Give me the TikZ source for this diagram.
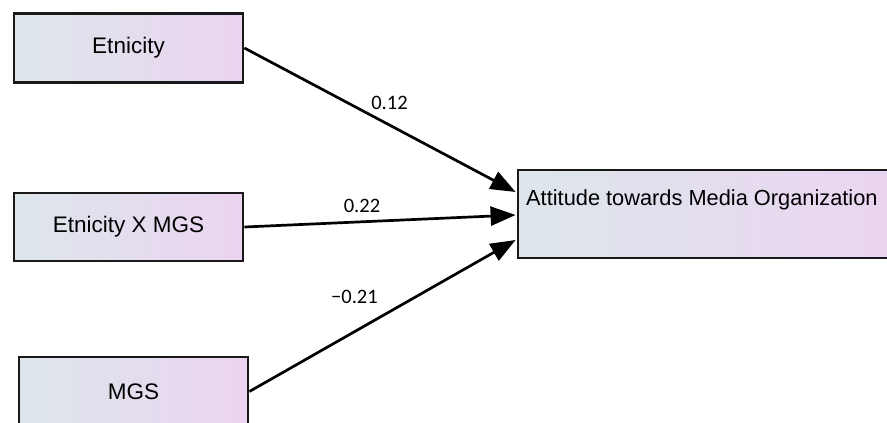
\documentclass[tikz,border=0pt]{standalone}
\usepackage{fontspec}
\setmainfont{Liberation Sans}
\newfontfamily\labfont{Carlito}
\usetikzlibrary{arrows.meta,calc}
\definecolor{gleft}{HTML}{DDE6EB}
\definecolor{gright}{HTML}{EBD4F1}
\tikzset{
  var/.style={draw=black!90, line width=2.8pt, left color=gleft, right color=gright,
    shading angle=90, inner sep=0pt, font=\fontsize{22.5}{26}\selectfont, text=black},
  path/.style={line width=2.7pt, draw=black, -{Triangle[length=25pt,width=19pt]}, shorten >=0pt},
  coef/.style={font=\labfont\fontsize{20.5}{24}\selectfont, text=black, inner sep=0pt}
}
\begin{document}
\begin{tikzpicture}[x=1pt,y=-1pt]
\useasboundingbox (0,0) rectangle (887,423);
\node[var, minimum width=229pt, minimum height=69pt] (eth) at (128.5,48) {Etnicity};
\node[var, minimum width=229pt, minimum height=68pt] (ethx) at (128.5,227) {Etnicity X MGS};
\node[var, minimum width=229pt, minimum height=69pt] (mgs) at (133.5,391.5) {MGS};
\node[var, minimum width=380pt, minimum height=88pt] (att) at (708,214) {};
\node[font=\fontsize{21.8}{26}\selectfont, text=black, anchor=base west, inner sep=0pt] (attlab) at (526,205.5) {Attitude towards Media Organization};
\coordinate (t1) at ($(att.west)+(-1,-22)$);
\coordinate (t2) at ($(att.west)+(-1,1)$);
\coordinate (t3) at ($(att.west)+(-1,26)$);
\draw[path] (eth.east) -- (t1);
\draw[path] (ethx.east) -- (t2);
\draw[path] (mgs.east) -- (t3);
\node[coef] (c1) at (389.5,102.5) {0.12};
\node[coef] (c2) at (362,206) {0.22};
\node[coef] (c3) at (354.5,296.5) {−0.21};
\end{tikzpicture}
\end{document}
